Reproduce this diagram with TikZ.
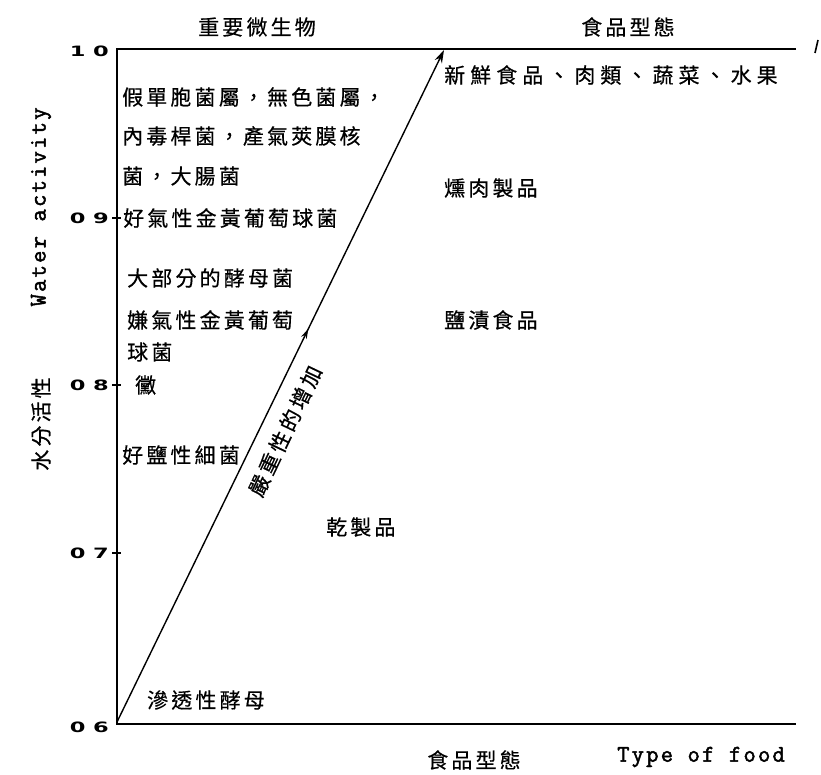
\documentclass[tikz,border=0pt]{standalone}
\usepackage{fontspec}
\newfontfamily\cjk[LetterSpace=15,FakeBold=0.5]{Noto Sans CJK TC}
\newfontfamily\cjkwide[LetterSpace=24,FakeBold=0.5]{Noto Sans CJK TC}
\newfontfamily\lmmono[LetterSpace=9,FakeBold=2]{Latin Modern Mono}
\newfontfamily\tickf{DejaVu Sans}
\usetikzlibrary{arrows.meta,decorations.markings}
\tikzset{
  zh/.style={font=\cjk\fontsize{21}{23}\selectfont, inner sep=0pt, anchor=west},
  zhc/.style={font=\cjk\fontsize{21}{23}\selectfont, inner sep=0pt},
  entext/.style={font=\lmmono\fontsize{24}{26}\selectfont, inner sep=0pt},
  ticklab/.style={font=\tickf\bfseries\fontsize{15}{16}\selectfont, inner sep=0pt, anchor=east},
  axisline/.style={line width=1.8pt},
  tickmark/.style={line width=1.3pt},
  sevarrow/.style={line width=1.4pt, -{Stealth[length=13pt,width=8pt]},
    postaction={decorate}, decoration={markings, mark=at position 0.585 with {\arrow{Stealth[length=10pt,width=6pt]}}}}
}
\newcommand{\tlab}[2]{\scalebox{1.5}[0.95]{#1\hspace{5pt}#2}}
\begin{document}
\begin{tikzpicture}[x=1pt,y=-1pt]
\useasboundingbox (0,0) rectangle (821,775);
% axes
\coordinate (tl) at (117,49);
\coordinate (tr) at (796,49);
\coordinate (bl) at (117,724);
\coordinate (br) at (796,724);
\draw[axisline] (tr) -- (tl) -- (bl) -- (br);
% ticks
\foreach \y/\a/\b/\nm in {51/1/0/t10, 218/0/9/t09, 385/0/8/t08, 553/0/7/t07, 727/0/6/t06}{
  \node[ticklab] (\nm) at (109,\y) {\tlab{\a}{\b}};
}
\foreach \y/\nm in {218/k9, 385/k8, 553/k7}{
  \coordinate (\nm a) at (112,\y);
  \coordinate (\nm b) at (121,\y);
  \draw[tickmark] (\nm a) -- (\nm b);
}
% small mark at the top right
\coordinate (m1a) at (815,53);
\coordinate (m1b) at (818,40);
\draw[line width=1.6pt] (m1a) -- (m1b);
% severity arrow
\coordinate (as) at (117,722);
\coordinate (ae) at (444,50);
\draw[sevarrow] (as) -- (ae);
\node[zhc, rotate=64.5] (sev) at (285,431) {嚴重性的增加};
% headings
\node[zhc] (h1) at (257,27) {重要微生物};
\node[zhc] (h2) at (628,27) {食品型態};
% microorganisms
\node[zh] (o1) at (122,97) {假單胞菌屬，無色菌屬，};
\node[zh] (o2) at (122,136) {內毒桿菌，產氣莢膜核};
\node[zh] (o3) at (122,176) {菌，大腸菌};
\node[zh] (o4) at (123,218) {好氣性金黃葡萄球菌};
\node[zh] (o5) at (127,278) {大部分的酵母菌};
\node[zh] (o6) at (127,320) {嫌氣性金黃葡萄};
\node[zh] (o7) at (127,352) {球菌};
\node[zh] (o8) at (135,385) {黴};
\node[zh] (o9) at (122,455) {好鹽性細菌};
\node[zh] (o10) at (147,700) {滲透性酵母};
% foods
\node[zh, font=\cjkwide\fontsize{21}{23}\selectfont] (f1) at (444,75) {新鮮食品、肉類、蔬菜、水果};
\node[zh] (f2) at (444,188) {燻肉製品};
\node[zh] (f3) at (444,320) {鹽漬食品};
\node[zh] (f4) at (326,527) {乾製品};
% bottom labels
\node[zhc] (b1) at (474,760) {食品型態};
\node[entext] (b2) at (701,757) {Type of food};
% left labels
\node[zhc, rotate=90] (l1) at (41,424) {水分活性};
\node[entext, rotate=90] (l2) at (41,207) {Water activity};
\end{tikzpicture}
\end{document}
